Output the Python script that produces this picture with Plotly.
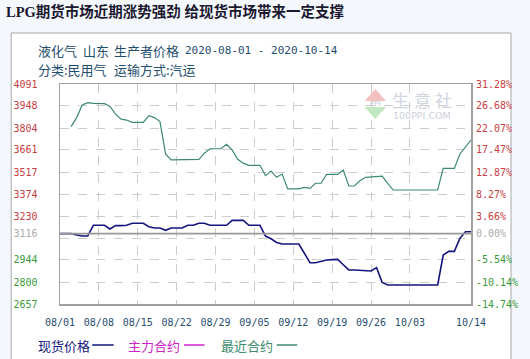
import plotly.graph_objects as go
import pandas as pd

# ---------------- data ----------------
spot_dates = pd.date_range("2020-08-01", "2020-10-14", freq="D")
spot_price = [3116, 3116, 3116, 3107, 3100,
              3100, 3170, 3170, 3170, 3146,
              3168, 3168, 3170, 3183, 3183,
              3183, 3161, 3152, 3152, 3137,
              3152, 3152, 3152, 3170, 3170,
              3183, 3183, 3170, 3170, 3170,
              3170, 3202, 3202, 3202, 3170,
              3170, 3170, 3100, 3082, 3058,
              3048, 3048, 3048, 3048, 2988,
              2926, 2926, 2935, 2944, 2946,
              2948, 2913, 2879, 2879, 2876,
              2872, 2872, 2894, 2798, 2781,
              2781, 2781, 2781, 2781, 2781,
              2781, 2781, 2781, 2781, 2976,
              3000, 3000, 3085, 3128, 3128]

near_dates = pd.date_range("2020-08-03", "2020-10-14", freq="D")
near_contract = [3813, 3872, 3954, 3969, 3965,
                 3965, 3963, 3945, 3895, 3862,
                 3856, 3841, 3841, 3841, 3885,
                 3872, 3846, 3635, 3596, 3596,
                 3596, 3596, 3596, 3600, 3640,
                 3669, 3669, 3669, 3698, 3661,
                 3600, 3575, 3561, 3561, 3561,
                 3494, 3524, 3483, 3504, 3407,
                 3407, 3407, 3417, 3411, 3444,
                 3444, 3502, 3502, 3502, 3530,
                 3426, 3426, 3460, 3483, 3485,
                 3488, 3491, 3444, 3400, 3400,
                 3400, 3400, 3400, 3400, 3400, 3400, 3400,
                 3541, 3541, 3541, 3635, 3683, 3726]

BASE = 3116
Y_MIN, Y_MAX = 2657, 4091
y_tick_vals = [4091, 3948, 3804, 3661, 3517, 3374, 3230, 3116, 3087, 2944, 2800, 2657]
y_left_labels = ["4091", "3948", "3804", "3661", "3517", "3374", "3230", "3116", "",
                 "2944", "2800", "2657"]
y_right_labels = ["31.28%", "26.68%", "22.07%", "17.47%", "12.87%", "8.27%", "3.66%",
                  "0.00%", "", "-5.54%", "-10.14%", "-14.74%"]

x_tick_vals = ["2020-08-01", "2020-08-08", "2020-08-15", "2020-08-22", "2020-08-29",
               "2020-09-05", "2020-09-12", "2020-09-19", "2020-09-26", "2020-10-03",
               "2020-10-14"]
x_tick_labels = ["08/01", "08/08", "08/15", "08/22", "08/29", "09/05", "09/12",
                 "09/19", "09/26", "10/03", "10/14"]

title_text = "LPG期货市场近期涨势强劲 给现货市场带来一定支撑"
legend_names = ["现货价格", "主力合约", "最近合约"]

# ---------------- styling ----------------
W, H = 530, 359
L, R, T, B = 60, 49, 84, 55
PW, PH = W - L - R, H - T - B


def px(x):
    return (x - L) / PW


def py(y):
    return (H - B - y) / PH


RED, GREEN, GREY = "#c84040", "#3a9a3a", "#aaaaaa"
NAVY = "#15157f"
LINE_GREEN = "#3d8b6b"
MAGENTA = "#cc22cc"
TEAL = "#1f4e6e"
CJK = "Noto Sans CJK SC"
MONO = "DejaVu Sans Mono"


def colored(labels, vals):
    out = []
    for lab, v in zip(labels, vals):
        if lab == "":
            out.append("")
            continue
        c = RED if v > BASE else (GREEN if v < BASE else GREY)
        out.append(f"<span style='color:{c}'>{lab}</span>")
    return out


fig = go.Figure()
fig.add_trace(go.Scatter(x=near_dates, y=near_contract, mode="lines",
                         line=dict(color=LINE_GREEN, width=1.2),
                         name=legend_names[2], showlegend=False, hoverinfo="skip"))
fig.add_trace(go.Scatter(x=spot_dates, y=spot_price, mode="lines",
                         line=dict(color=NAVY, width=1.6),
                         name=legend_names[0], showlegend=False, hoverinfo="skip"))
# invisible helper to show the right axis
fig.add_trace(go.Scatter(x=spot_dates, y=spot_price, mode="lines", yaxis="y2",
                         line=dict(color="rgba(0,0,0,0)", width=0),
                         showlegend=False, hoverinfo="skip"))

shapes = [
    # panel box
    dict(type="rect", xref="paper", yref="paper", x0=px(10), x1=px(522),
         y0=py(380), y1=py(33), fillcolor="white",
         line=dict(color="#a8a8a8", width=1), layer="below"),
    # base line
    dict(type="line", xref="paper", yref="y", x0=0, x1=1, y0=BASE, y1=BASE,
         line=dict(color="#999999", width=1.6)),
    # legend samples
    dict(type="line", xref="paper", yref="paper", x0=px(93), x1=px(115),
         y0=py(345), y1=py(345), line=dict(color=NAVY, width=1.5)),
    dict(type="line", xref="paper", yref="paper", x0=px(187), x1=px(208),
         y0=py(345), y1=py(345), line=dict(color=MAGENTA, width=1.5)),
    dict(type="line", xref="paper", yref="paper", x0=px(282), x1=px(303),
         y0=py(345), y1=py(345), line=dict(color=LINE_GREEN, width=1.5)),
    # watermark logo
    dict(type="path", xref="paper", yref="paper",
         path=f"M {px(383)} {py(89)} L {px(372)} {py(101)} L {px(394)} {py(101)} Z",
         fillcolor="#f3c0c0", line=dict(width=0)),
    dict(type="path", xref="paper", yref="paper",
         path=f"M {px(372)} {py(107)} L {px(394)} {py(107)} L {px(383)} {py(119)} Z",
         fillcolor="#c2e8c2", line=dict(width=0)),
]

annotations = [
    dict(text=f"<b>{title_text}</b>", x=px(3), y=py(11), xref="paper", yref="paper",
         xanchor="left", yanchor="middle", showarrow=False,
         font=dict(family="Liberation Serif, " + CJK, size=14.5, color="#1b1830")),
    dict(text="液化气", x=px(35), y=py(50)),
    dict(text="山东", x=px(81), y=py(50)),
    dict(text="生产者价格", x=px(113), y=py(50)),
    dict(text="2020-08-01 - 2020-10-14", x=px(186), y=py(50),
         font=dict(family=MONO, size=11, color=TEAL)),
    dict(text="分类:民用气", x=px(35), y=py(70)),
    dict(text="运输方式:汽运", x=px(113), y=py(70)),
    dict(text=legend_names[0], x=px(35), y=py(345), font=dict(family=CJK, size=13, color=NAVY)),
    dict(text=legend_names[1], x=px(128), y=py(345), font=dict(family=CJK, size=13, color=MAGENTA)),
    dict(text=legend_names[2], x=px(223), y=py(345), font=dict(family=CJK, size=13, color=LINE_GREEN)),
    dict(text="PPI", x=px(383), y=py(104), xanchor="center",
         font=dict(family="DejaVu Sans", size=7, color="#c4c8d0")),
    dict(text="生", x=px(409), y=py(99), xanchor="center",
         font=dict(family=CJK, size=17, color="#cfd5df")),
    dict(text="意", x=px(431), y=py(99), xanchor="center",
         font=dict(family=CJK, size=17, color="#cfd5df")),
    dict(text="社", x=px(453), y=py(99), xanchor="center",
         font=dict(family=CJK, size=17, color="#cfd5df")),
    dict(text="100PPI.COM", x=px(431), y=py(115), xanchor="center",
         font=dict(family="DejaVu Sans", size=9.5, color="#cdd1d8")),
]
for a in annotations:
    a.setdefault("xref", "paper")
    a.setdefault("yref", "paper")
    a.setdefault("xanchor", "left")
    a.setdefault("yanchor", "middle")
    a.setdefault("showarrow", False)
    a.setdefault("font", dict(family=CJK, size=13, color=TEAL))

fig.update_layout(
    width=W, height=H,
    margin=dict(l=L, r=R, t=T, b=B, pad=0),
    paper_bgcolor="#f4f8fc",
    plot_bgcolor="rgba(0,0,0,0)",
    showlegend=False,
    shapes=shapes,
    annotations=annotations,
    xaxis=dict(type="date", range=["2020-08-01", "2020-10-14"],
               tickmode="array", tickvals=x_tick_vals, ticktext=x_tick_labels,
               showgrid=True, gridcolor="#cccccc", griddash="dash", gridwidth=1,
               showline=True, linecolor="#a0a0a0", linewidth=1.5, mirror=True,
               ticks="outside", ticklen=8, tickcolor="rgba(0,0,0,0)",
               tickfont=dict(family=MONO, size=10, color=TEAL), zeroline=False),
    yaxis=dict(range=[Y_MIN, Y_MAX], tickmode="array", tickvals=y_tick_vals,
               ticktext=colored(y_left_labels, y_tick_vals),
               showgrid=True, gridcolor="#cccccc", griddash="dash", gridwidth=1,
               showline=True, linecolor="#a0a0a0", linewidth=1.5, mirror=True,
               ticks="outside", ticklen=19, tickcolor="rgba(0,0,0,0)",
               tickfont=dict(family=MONO, size=10), zeroline=False),
    yaxis2=dict(range=[Y_MIN, Y_MAX], overlaying="y", side="right",
                tickmode="array", tickvals=y_tick_vals,
                ticktext=colored(y_right_labels, y_tick_vals),
                showgrid=False, showline=False, zeroline=False,
                ticks="outside", ticklen=2, tickcolor="rgba(0,0,0,0)",
                tickfont=dict(family=MONO, size=10)),
)

fig.write_html("out.html",
               config={"displayModeBar": False, "staticPlot": True},
               post_script="document.body.style.margin='0px';"
                           "document.body.style.background='#f4f8fc';"
                           "document.body.style.overflow='hidden';")
